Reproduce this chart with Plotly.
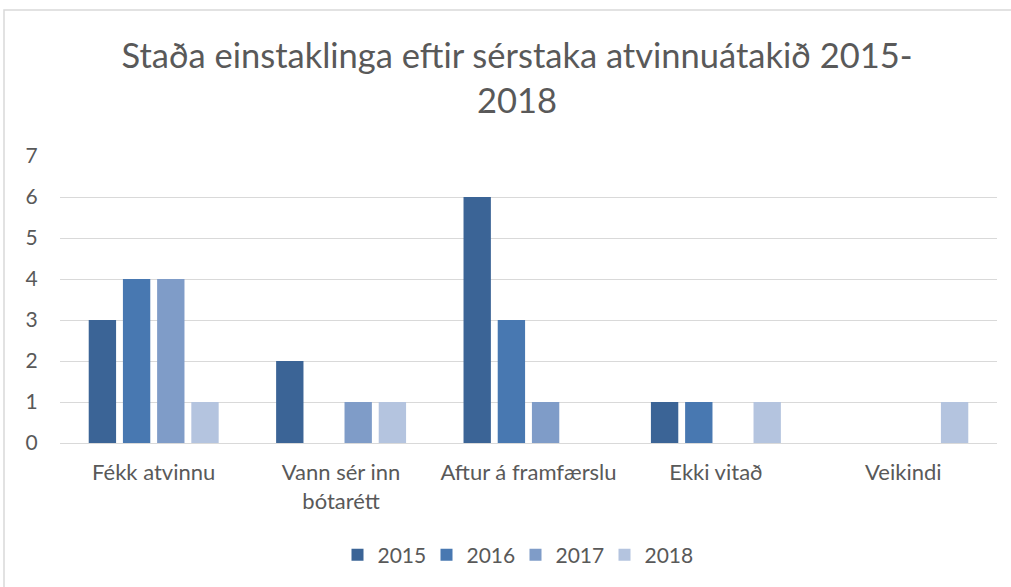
import plotly.graph_objects as go

categories = ["Fékk atvinnu", "Vann sér inn<br>bótarétt", "Aftur á framfærslu", "Ekki vitað", "Veikindi"]
years = ["2015", "2016", "2017", "2018"]
v2015 = [3, 2, 6, 1, 0]
v2016 = [4, 0, 3, 1, 0]
v2017 = [4, 1, 1, 0, 0]
v2018 = [1, 1, 0, 1, 1]
colors = ["#3b6496", "#4878b1", "#7f9cc8", "#b4c4df"]

series = [v2015, v2016, v2017, v2018]

fig = go.Figure()
for name, vals, c in zip(years, series, colors):
    fig.add_trace(go.Bar(x=categories, y=vals, name=name, marker=dict(color=c, line=dict(width=0))))

L, R, T, B = 60, 14, 156, 144
W, H = 1011, 587
pw, ph = W - L - R, H - T - B

def px_x(x):
    return (x - L) / pw

def px_y(y):
    return (H - B - y) / ph

font_family = "Lato, 'Open Sans', sans-serif"
fig.update_layout(
    width=W, height=H,
    margin=dict(l=L, r=R, t=T, b=B),
    paper_bgcolor="white", plot_bgcolor="white",
    barmode="group", bargap=0.27, bargroupgap=0.2,
    font=dict(family=font_family, color="#595959", size=22),
    title=dict(text="Staða einstaklinga eftir sérstaka atvinnuátakið 2015-<br>2018",
               x=517 / W, xanchor="center", y=1 - 68 / H, yanchor="middle",
               font=dict(size=34.5, color="#595959", family=font_family)),
    showlegend=True,
    legend=dict(orientation="h", x=px_x(515.5), xanchor="center", y=px_y(555), yanchor="middle",
                font=dict(size=21, color="#595959"), traceorder="normal",
                entrywidth=44, entrywidthmode="pixels"),
    xaxis=dict(showgrid=False, showline=False, ticks="", tickfont=dict(size=22),
               ticklabelstandoff=14),
    yaxis=dict(range=[0, 7], dtick=1, showgrid=True, gridcolor="#d9d9d9", gridwidth=1,
               zeroline=True, zerolinecolor="#d9d9d9", zerolinewidth=1,
               ticks="outside", ticklen=17, tickcolor="rgba(0,0,0,0)", tickfont=dict(size=21)),
    shapes=[dict(type="rect", xref="paper", yref="paper",
                 x0=px_x(4), x1=px_x(1020), y0=px_y(600), y1=px_y(10),
                 line=dict(color="#d9d9d9", width=1.5), fillcolor="rgba(0,0,0,0)", layer="below")],
)

fig.write_html("out.html", config={"displayModeBar": False},
               post_script="document.body.style.margin='0';document.body.style.padding='0';")
